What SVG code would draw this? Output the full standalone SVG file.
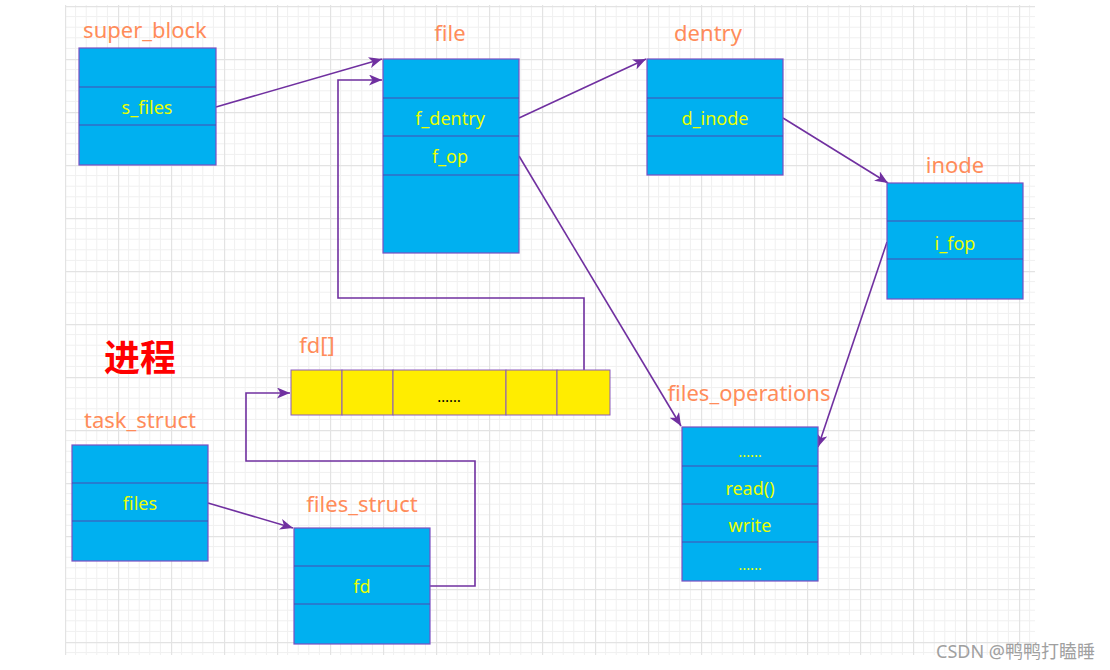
<svg xmlns="http://www.w3.org/2000/svg" width="1110" height="670" viewBox="0 0 1110 670">
<style>
.box{fill:#00b0f0;stroke:#7b4fc2;stroke-width:1.2}
.div{stroke:#4a4ab0;stroke-width:1.2}
.fld{font-family:"Noto Sans","Open Sans",sans-serif;font-size:18px;fill:#eaff00;text-anchor:middle}
.dots{font-family:"Noto Sans","Open Sans",sans-serif;font-size:15px;fill:#eaff00;text-anchor:middle}
.ttl{font-family:"Noto Sans","Open Sans",sans-serif;font-size:22px;fill:#ff8c5a;text-anchor:middle}
.arr{fill:none;stroke:#7030a0;stroke-width:1.6;marker-end:url(#ah)}
.cell{fill:#ffed00;stroke:#8a5bbd;stroke-width:1}
</style>
<defs>
<pattern id="grid" patternUnits="userSpaceOnUse" x="65" y="6" width="53" height="53">
<g stroke="#f0f0f0" stroke-width="1">
<line x1="10.6" y1="0" x2="10.6" y2="53"/><line x1="21.2" y1="0" x2="21.2" y2="53"/><line x1="31.8" y1="0" x2="31.8" y2="53"/><line x1="42.4" y1="0" x2="42.4" y2="53"/>
<line x1="0" y1="10.6" x2="53" y2="10.6"/><line x1="0" y1="21.2" x2="53" y2="21.2"/><line x1="0" y1="31.8" x2="53" y2="31.8"/><line x1="0" y1="42.4" x2="53" y2="42.4"/>
</g>
<g stroke="#e3e3e3" stroke-width="1.4">
<line x1="0.5" y1="0" x2="0.5" y2="53"/><line x1="0" y1="0.5" x2="53" y2="0.5"/>
</g>
</pattern>
<marker id="ah" markerUnits="userSpaceOnUse" markerWidth="16" markerHeight="12" refX="13" refY="5.5" orient="auto">
<path d="M0,0 L13,5.5 L0,11 L3.5,5.5 Z" fill="#7030a0"/>
</marker>
</defs>
<rect width="1110" height="670" fill="#ffffff"/>
<rect x="65" y="5" width="970" height="650" fill="url(#grid)"/>

<g id="connectors">
<line class="arr" x1="216" y1="107" x2="382" y2="59"/>
<line class="arr" x1="519" y1="118" x2="646" y2="59"/>
<line class="arr" x1="783" y1="118" x2="888" y2="183"/>
<line class="arr" x1="519" y1="156" x2="681" y2="426"/>
<line class="arr" x1="887" y1="242" x2="818" y2="447"/>
<line class="arr" x1="208" y1="503" x2="293" y2="528"/>
<polyline class="arr" points="584,370 584,298 338,298 338,80 382,80"/>
<polyline class="arr" points="430,586 475,586 475,461 246,461 246,393 290,393"/>
</g>

<g id="super_block">
<text class="ttl" x="145" y="38">super_block</text>
<rect class="box" x="79" y="48" width="137" height="117"/>
<line class="div" x1="79" y1="87" x2="216" y2="87"/>
<line class="div" x1="79" y1="125" x2="216" y2="125"/>
<text class="fld" x="147" y="114">s_files</text>
</g>

<g id="file">
<text class="ttl" x="450" y="41">file</text>
<rect class="box" x="383" y="59" width="136" height="194"/>
<line class="div" x1="383" y1="98" x2="519" y2="98"/>
<line class="div" x1="383" y1="136" x2="519" y2="136"/>
<line class="div" x1="383" y1="175" x2="519" y2="175"/>
<text class="fld" x="450" y="125">f_dentry</text>
<text class="fld" x="450" y="163">f_op</text>
</g>

<g id="dentry">
<text class="ttl" x="708" y="41">dentry</text>
<rect class="box" x="647" y="59" width="136" height="116"/>
<line class="div" x1="647" y1="98" x2="783" y2="98"/>
<line class="div" x1="647" y1="136" x2="783" y2="136"/>
<text class="fld" x="715" y="125">d_inode</text>
</g>

<g id="inode">
<text class="ttl" x="955" y="173">inode</text>
<rect class="box" x="887" y="183" width="136" height="116"/>
<line class="div" x1="887" y1="221" x2="1023" y2="221"/>
<line class="div" x1="887" y1="259" x2="1023" y2="259"/>
<text class="fld" x="955" y="250">i_fop</text>
</g>

<g id="process_label">
<text x="140" y="371" font-family="'Noto Sans CJK SC',sans-serif" font-size="36" font-weight="bold" fill="#ff0000" text-anchor="middle">进程</text>
</g>

<g id="fd_array">
<text class="ttl" x="317" y="353">fd[]</text>
<rect class="cell" x="291" y="370" width="51" height="45"/>
<rect class="cell" x="342" y="370" width="51" height="45"/>
<rect class="cell" x="393" y="370" width="113" height="45"/>
<rect class="cell" x="506" y="370" width="51" height="45"/>
<rect class="cell" x="557" y="370" width="53" height="45"/>
<text x="449" y="402" font-family="'Noto Sans','Noto Sans CJK SC',sans-serif" font-size="15" fill="#000000" text-anchor="middle">……</text>
</g>

<g id="task_struct">
<text class="ttl" x="140" y="428">task_struct</text>
<rect class="box" x="72" y="445" width="136" height="116"/>
<line class="div" x1="72" y1="483" x2="208" y2="483"/>
<line class="div" x1="72" y1="521" x2="208" y2="521"/>
<text class="fld" x="140" y="510">files</text>
</g>

<g id="files_struct">
<text class="ttl" x="362" y="512">files_struct</text>
<rect class="box" x="294" y="528" width="136" height="116"/>
<line class="div" x1="294" y1="566" x2="430" y2="566"/>
<line class="div" x1="294" y1="604" x2="430" y2="604"/>
<text class="fld" x="362" y="593">fd</text>
</g>

<g id="files_operations">
<text class="ttl" x="749" y="401">files_operations</text>
<rect class="box" x="682" y="427" width="136" height="154"/>
<line class="div" x1="682" y1="466" x2="818" y2="466"/>
<line class="div" x1="682" y1="504" x2="818" y2="504"/>
<line class="div" x1="682" y1="542" x2="818" y2="542"/>
<text class="dots" x="750" y="457">……</text>
<text class="fld" x="750" y="495">read()</text>
<text class="fld" x="750" y="532">write</text>
<text class="dots" x="750" y="570">……</text>
</g>

<g id="watermark">
<text x="1095" y="658" font-family="'Noto Sans','Noto Sans CJK SC',sans-serif" font-size="18" fill="#a0a0a0" text-anchor="end">CSDN @鸭鸭打瞌睡</text>
</g>
</svg>
